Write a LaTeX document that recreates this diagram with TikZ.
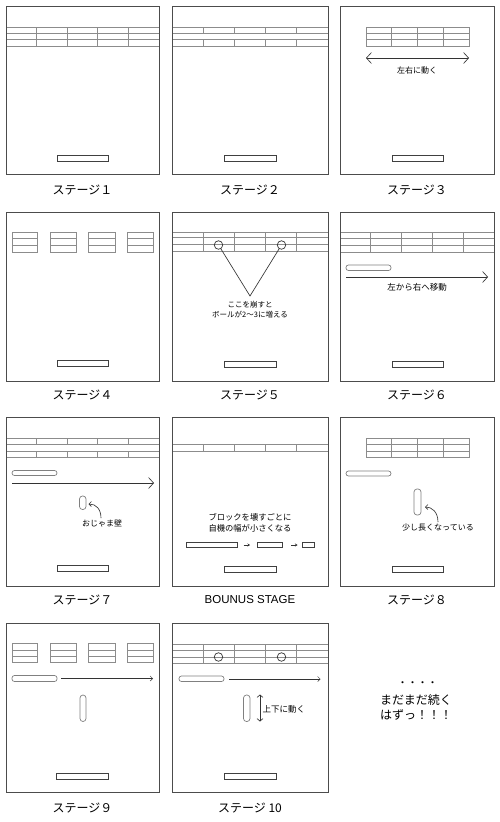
\documentclass[tikz,border=0pt]{standalone}
\usepackage{fontspec}
\newfontfamily\cjk{Noto Sans CJK JP}
\newfontfamily\lat{Liberation Sans}
\usetikzlibrary{arrows.meta}
\tikzset{
  panel/.style={draw=black!70, line width=0.9pt, inner sep=0pt},
  brick/.style={draw=black!45, line width=0.7pt},
  paddle/.style={draw=black!75, line width=0.8pt},
  enemy/.style={draw=black!50, line width=0.7pt, rounded corners=2.5pt},
  ring/.style={circle, draw=black!80, line width=0.7pt, minimum size=8.5pt, inner sep=0pt},
  arr/.style={draw=black!80, line width=0.65pt},
  bigarr/.style={arr, -{Straight Barb[length=5pt,width=11pt]}},
  smallarr/.style={arr, -{Straight Barb[length=2.5pt,width=5pt]}},
  lbl/.style={font=\cjk\fontsize{12}{14}\selectfont, inner sep=0pt},
  note/.style={font=\cjk\fontsize{8}{10}\selectfont, inner sep=0pt, align=center},
}
\newcommand\brickrow[5]{%
  \draw[brick] (#1,#3) rectangle (#2,#4);
  \foreach \k in {1,...,#5}{\draw[brick] ({#1+\k*(#2-#1)/(#5+1)},#3) -- ({#1+\k*(#2-#1)/(#5+1)},#4);}%
}
\newcommand\brgroup[6]{%
  \draw[brick] (#1,#3) rectangle (#2,#6);
  \draw[brick] (#1,#4) -- (#2,#4) (#1,#5) -- (#2,#5);%
}
\begin{document}
\begin{tikzpicture}[x=1pt,y=-1pt]
\useasboundingbox (0,0) rectangle (500,822);
\fill[white] (0,0) rectangle (500,822);

% ---------- Stage 1 ----------
\brickrow{6}{159}{27}{33}{4}
\brickrow{6}{159}{33}{39}{4}
\brickrow{6}{159}{39}{46}{4}
\draw[paddle] (57,155) rectangle (108,161);
\node[panel, minimum width=153pt, minimum height=168pt] (p1) at (82.5,90) {};
\node[lbl] (l1) at (82.5,190) {ステージ１};

% ---------- Stage 2 ----------
\brickrow{172}{328}{27}{33}{4}
\brickrow{172}{328}{39}{46}{4}
\draw[paddle] (224,155) rectangle (276,161);
\node[panel, minimum width=156pt, minimum height=168pt] (p2) at (250,90) {};
\node[lbl] (l2) at (250,190) {ステージ２};

% ---------- Stage 3 ----------
\brickrow{366}{469}{27}{33}{3}
\brickrow{366}{469}{33}{39}{3}
\brickrow{366}{469}{39}{46}{3}
\coordinate (a3l) at (366,58);
\coordinate (a3r) at (469,58);
\draw[arr, {Straight Barb[length=5pt,width=11pt]}-{Straight Barb[length=5pt,width=11pt]}] (a3l) -- (a3r);
\node[note] (t3) at (417,70) {左右に動く};
\draw[paddle] (392,155) rectangle (443,161);
\node[panel, minimum width=154pt, minimum height=168pt] (p3) at (417,90) {};
\node[lbl] (l3) at (417,190) {ステージ３};

% ---------- Stage 4 ----------
\brgroup{12}{37}{232}{238}{245}{252}
\brgroup{50}{76}{232}{238}{245}{252}
\brgroup{88}{115}{232}{238}{245}{252}
\brgroup{127}{153}{232}{238}{245}{252}
\draw[paddle] (57,360) rectangle (108,366);
\node[panel, minimum width=153pt, minimum height=169pt] (p4) at (82.5,296.5) {};
\node[lbl] (l4) at (82.5,395) {ステージ４};

% ---------- Stage 5 ----------
\brickrow{172}{328}{232}{237.5}{4}
\brickrow{172}{328}{237.5}{244.5}{4}
\brickrow{172}{328}{244.5}{251.5}{4}
\node[ring] (c5a) at (218.5,245) {};
\node[ring] (c5b) at (281.5,245) {};
\coordinate (ap5) at (250,296);
\draw[arr] (c5a) -- (ap5) -- (c5b);
\node[note, font=\cjk\fontsize{7.5}{10}\selectfont] (t5) at (250,310) {ここを崩すと\\ボールが2〜3に増える};
\draw[paddle] (224,361) rectangle (276,367);
\node[panel, minimum width=156pt, minimum height=169pt] (p5) at (250,296.5) {};
\node[lbl] (l5) at (250,395) {ステージ５};

% ---------- Stage 6 ----------
\brickrow{340}{494}{232}{238}{4}
\brickrow{340}{494}{238}{245}{4}
\brickrow{340}{494}{245}{252}{4}
\draw[enemy] (346,265) rectangle (391,270.5);
\coordinate (a6l) at (346,277);
\coordinate (a6r) at (488,277);
\draw[bigarr] (a6l) -- (a6r);
\node[note, font=\cjk\fontsize{8.5}{10}\selectfont] (t6) at (417,287.5) {左から右へ移動};
\draw[paddle] (392,361) rectangle (443,367);
\node[panel, minimum width=154pt, minimum height=169pt] (p6) at (417,296.5) {};
\node[lbl] (l6) at (417,395) {ステージ６};

% ---------- Stage 7 ----------
\brickrow{6}{159}{438}{444}{4}
\brickrow{6}{159}{451}{457}{4}
\draw[enemy] (12,470.5) rectangle (57,475.5);
\coordinate (a7l) at (12,483);
\coordinate (a7r) at (154,483);
\draw[bigarr] (a7l) -- (a7r);
\draw[enemy, rounded corners=3pt] (79.5,496) rectangle (86,509.5);
\node[note] (t7) at (102,523.5) {おじゃま壁};
\coordinate (w7) at (88.5,504);
\draw[smallarr] (t7.north) ++(-1,-1.5) coordinate (s7) .. controls (101,509) and (96,504) .. (w7);
\draw[paddle] (57,565.5) rectangle (108,571.5);
\node[panel, minimum width=153pt, minimum height=169pt] (p7) at (82.5,501.5) {};
\node[lbl] (l7) at (82.5,600) {ステージ７};

% ---------- Bonus ----------
\brickrow{172}{328}{444}{451}{4}
\node[note, font=\cjk\fontsize{8.3}{10.5}\selectfont] (tb) at (250,523) {ブロックを壊すごとに\\自機の幅が小さくなる};
\draw[paddle] (186,542.5) rectangle (237,547.5);
\draw[paddle] (257,542.5) rectangle (282,547.5);
\draw[paddle] (302,542.5) rectangle (314,547.5);
\coordinate (b1s) at (243.5,545);
\coordinate (b1e) at (250,545);
\coordinate (b2s) at (291,545);
\coordinate (b2e) at (297.5,545);
\draw[arr, -{Stealth[length=2.5pt,width=3pt]}, line width=0.5pt] (b1s) -- (b1e);
\draw[arr, -{Stealth[length=2.5pt,width=3pt]}, line width=0.5pt] (b2s) -- (b2e);
\draw[paddle] (224,566.5) rectangle (276,572);
\node[panel, minimum width=156pt, minimum height=169pt] (p8) at (250,501.5) {};
\node[lbl, font=\lat\fontsize{11.5}{13}\selectfont] (l8) at (250,600) {BOUNUS STAGE};

% ---------- Stage 8 ----------
\brickrow{366}{469}{438}{444}{3}
\brickrow{366}{469}{444}{451}{3}
\brickrow{366}{469}{451}{457}{3}
\draw[enemy] (346,471) rectangle (391,476);
\draw[enemy, rounded corners=3pt] (414,489) rectangle (421,515);
\node[note] (t9) at (438,527.5) {少し長くなっている};
\coordinate (w9) at (425,507);
\draw[smallarr] (t9.north) ++(0,-1.5) coordinate (s9) .. controls (438,512) and (432,507) .. (w9);
\draw[paddle] (392,566.5) rectangle (443,572);
\node[panel, minimum width=154pt, minimum height=169pt] (p9) at (417,501.5) {};
\node[lbl] (l9) at (417,600) {ステージ８};

% ---------- Stage 9 ----------
\brgroup{12}{37}{643}{650}{656}{662}
\brgroup{50}{76}{643}{650}{656}{662}
\brgroup{88}{115}{643}{650}{656}{662}
\brgroup{127}{153}{643}{650}{656}{662}
\draw[enemy] (12,675.5) rectangle (57,681.5);
\coordinate (a10l) at (61,678.5);
\coordinate (a10r) at (153,678.5);
\draw[smallarr, line width=0.5pt] (a10l) -- (a10r);
\draw[enemy, rounded corners=3pt] (80,695) rectangle (86,721.5);
\draw[paddle] (56,773) rectangle (108,779);
\node[panel, minimum width=153pt, minimum height=169pt] (p10) at (82.5,707.5) {};
\node[lbl] (l10) at (82.5,808) {ステージ９};

% ---------- Stage 10 ----------
\brickrow{172}{328}{644}{650}{4}
\brickrow{172}{328}{650}{657}{4}
\brickrow{172}{328}{657}{663}{4}
\node[ring] (c11a) at (218.5,657) {};
\node[ring] (c11b) at (281.5,657) {};
\draw[enemy] (179,676) rectangle (224,681.5);
\coordinate (a11l) at (229,679);
\coordinate (a11r) at (320.5,679);
\draw[smallarr, line width=0.5pt] (a11l) -- (a11r);
\draw[enemy, rounded corners=3pt] (243.5,695) rectangle (250,721.5);
\coordinate (v11t) at (260,694.5);
\coordinate (v11b) at (260,721.5);
\draw[arr, {Straight Barb[length=2.5pt,width=6pt]}-{Straight Barb[length=2.5pt,width=6pt]}] (v11t) -- (v11b);
\node[note, anchor=west, font=\cjk\fontsize{8.5}{10}\selectfont] (t11) at (262.5,709) {上下に動く};
\draw[paddle] (224,773) rectangle (276,779);
\node[panel, minimum width=156pt, minimum height=169pt] (p11) at (250,707.5) {};
\node[lbl] (l11) at (250,808) {ステージ 10};

% ---------- Continues ----------
\node[lbl, font=\cjk\fontsize{10}{12}\selectfont] (dots) at (417.5,684) {・・・・};
\node[lbl, anchor=west] (m1) at (380,700) {まだまだ続く};
\node[lbl, anchor=west] (m2) at (380,715) {はずっ！！！};
\end{tikzpicture}
\end{document}
